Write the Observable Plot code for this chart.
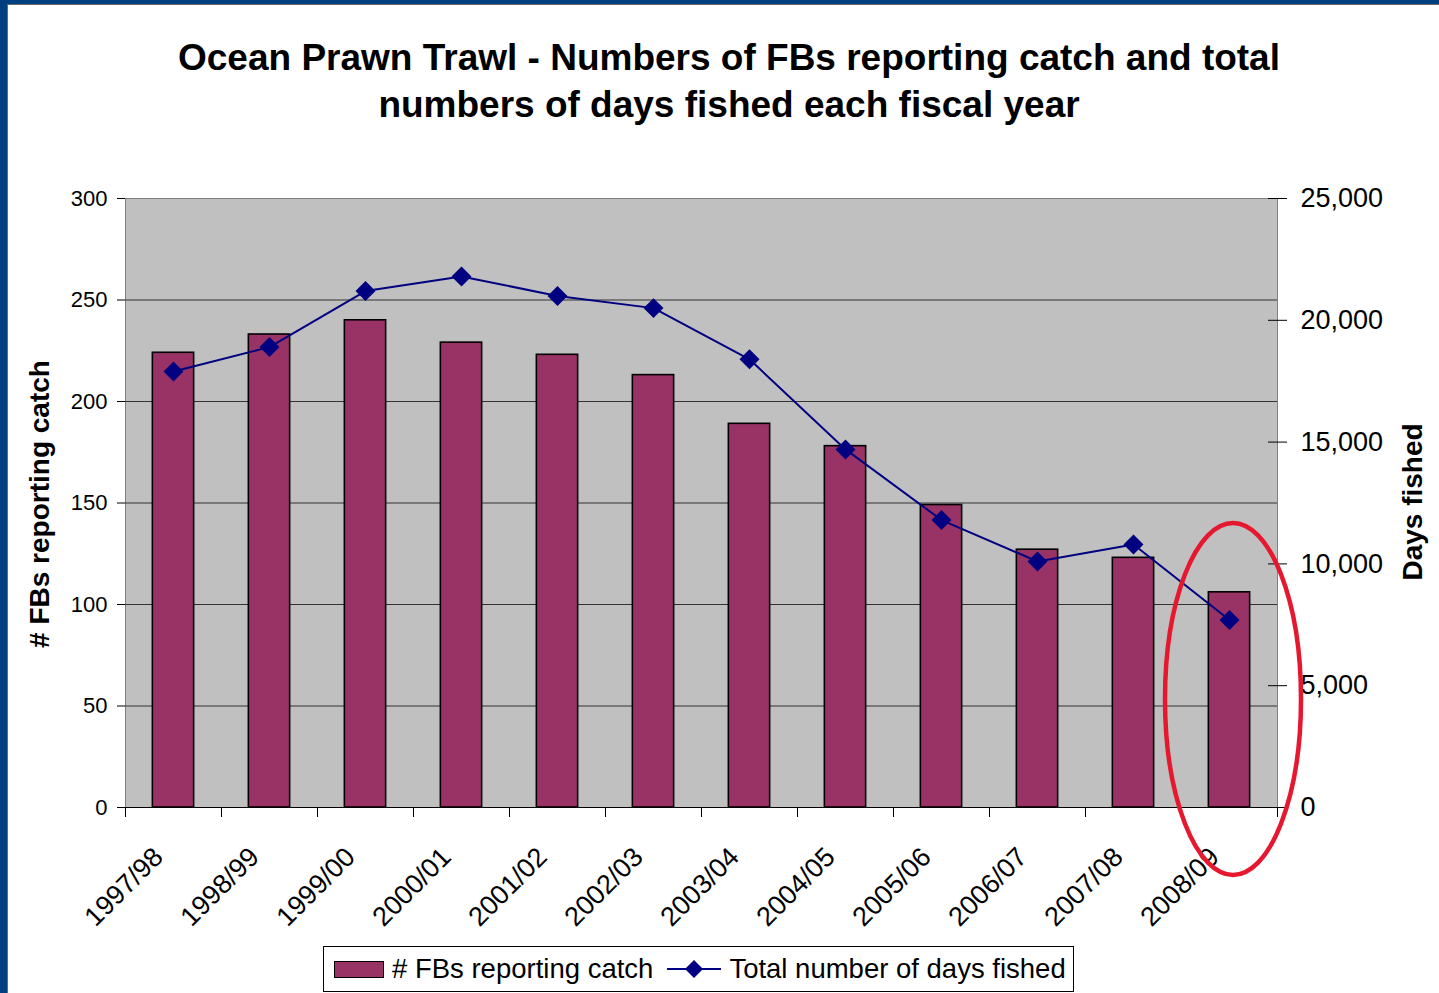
<!DOCTYPE html>
<html>
<head>
<meta charset="utf-8">
<script src="https://cdn.jsdelivr.net/npm/d3@7"></script>
<script src="https://cdn.jsdelivr.net/npm/@observablehq/plot@0.6"></script>
<style>
  html, body { margin: 0; padding: 0; background: #fff; }
  #wrap { position: relative; width: 1439px; height: 993px; overflow: hidden; background: #fff;
          font-family: "Liberation Sans", Arial, sans-serif; color: #000; }
  #frameBlue { position: absolute; left: 0; top: 0; width: 1439px; height: 993px; box-sizing: border-box;
               border-left: 7px solid #003F7F; border-top: 4px solid #003F7F; }
  #frameLine { position: absolute; left: 7px; top: 4px; width: 1432px; height: 989px; box-sizing: border-box;
               border-left: 1px solid #6a6a6a; border-top: 1px solid #6a6a6a; }
  #title { position: absolute; left: 0; top: 34px; width: 1458px; text-align: center;
           font-weight: bold; font-size: 37px; line-height: 47px; }
  #chart { position: absolute; left: 0; top: 140px; }
  .ytitle { position: absolute; font-weight: bold; font-size: 28px; white-space: nowrap;
            transform: translate(-50%, -50%) rotate(-90deg); }
  #legend { position: absolute; left: 323px; top: 946px; width: 751px; height: 46px; box-sizing: border-box;
            border: 1px solid #000; display: flex; align-items: center; font-size: 27.5px; padding-left: 10px; }
  #legend .sw { width: 48px; height: 15px; background: #993366; border: 1.5px solid #000; margin-right: 8px; }
  #overlay { position: absolute; left: 0; top: 0; pointer-events: none; }
</style>
</head>
<body>
<div id="wrap">
  <div id="frameBlue"></div>
  <div id="frameLine"></div>
  <div id="title">Ocean Prawn Trawl - Numbers of FBs reporting catch and total<br>numbers of days fished each fiscal year</div>
  <div id="chart"></div>
  <div class="ytitle" style="left:40px; top:504px;"># FBs reporting catch</div>
  <div class="ytitle" style="left:1413px; top:502px;">Days fished</div>
  <div id="legend"></div>
  <svg id="overlay" width="1439" height="993">
    <ellipse cx="1233" cy="699" rx="68" ry="176" fill="none" stroke="#E5182F" stroke-width="4.5"></ellipse>
  </svg>
</div>
<script>
// ---- data ----
const years = ["1997/98","1998/99","1999/00","2000/01","2001/02","2002/03","2003/04","2004/05","2005/06","2006/07","2007/08","2008/09"];
const fbs   = [224, 233, 240, 229, 223, 213, 189, 178, 149, 127, 123, 106];
const days  = [17900, 18900, 21200, 21800, 21000, 20500, 18400, 14700, 11800, 10100, 10800, 7700];
const leftTicks = [0, 50, 100, 150, 200, 250, 300];
const rightTicks = [0, 5000, 10000, 15000, 20000, 25000];
const leftMax = 300, rightMax = 25000;

const rows = years.map((y, i) => ({year: y, fbs: fbs[i], days: days[i]}));
const toLeft = v => v * leftMax / rightMax;
const fromLeft = v => v * rightMax / leftMax;
const fmt = d3.format(",");

const plot = Plot.plot({
  width: 1439,
  height: 800,
  marginLeft: 125,
  marginRight: 162,
  marginTop: 58,
  marginBottom: 133,
  style: {background: "transparent", fontFamily: "'Liberation Sans', Arial, sans-serif", color: "#000"},
  x: {type: "band", domain: years, paddingInner: 0.57, paddingOuter: 0.285, round: false, axis: null},
  y: {domain: [0, leftMax], axis: null},
  marks: [
    Plot.frame({fill: "#C0C0C0", stroke: "#808080"}),
    Plot.ruleY(leftTicks.filter(t => t > 0 && t < leftMax), {stroke: "#333", strokeWidth: 1}),
    Plot.barY(rows, {x: "year", y: "fbs", fill: "#993366", stroke: "#000", strokeWidth: 1.6}),
    Plot.line(rows, {x: "year", y: d => toLeft(d.days), stroke: "#000080", strokeWidth: 2}),
    Plot.dot(rows, {x: "year", y: d => toLeft(d.days), symbol: "diamond2", r: 9, fill: "#000080", stroke: "none"}),
    Plot.ruleY([0], {stroke: "#000", strokeWidth: 1}),
    // left axis
    Plot.axisY(leftTicks, {anchor: "left", tickSize: 8, tickPadding: 10, fontSize: 22, line: true, label: null}),
    // right axis: labels + crossing ticks
    Plot.axisY(rightTicks.map(toLeft), {anchor: "right", tickSize: 0, tickPadding: 23, fontSize: 27, line: true,
      tickFormat: v => fmt(Math.round(fromLeft(v))), label: null}),
    Plot.axisY(rightTicks.map(toLeft), {anchor: "right", tickSize: 19, dx: -10, tickFormat: () => "", label: null}),
    // category boundary ticks
    Plot.axisX(years, {anchor: "bottom", tickSize: 10, dx: -48, tickFormat: () => "", label: null}),
    Plot.axisX([years[years.length - 1]], {anchor: "bottom", tickSize: 10, dx: 48, tickFormat: () => "", label: null}),
    // rotated category labels
    Plot.text(years, {x: d => d, frameAnchor: "bottom", rotate: -45, textAnchor: "end", lineAnchor: "middle",
      dx: -15, dy: 45, fontSize: 27, fill: "#000"})
  ]
});
document.getElementById("chart").appendChild(plot);

// legend
const lg = document.getElementById("legend");
lg.innerHTML = `<div class="sw"></div><span># FBs reporting catch</span>
<svg width="58" height="22" style="margin:0 6px 0 12px"><line x1="2" y1="11" x2="56" y2="11" stroke="#000080" stroke-width="2"/>
<path d="M29,2 L38,11 L29,20 L20,11 Z" fill="#000080"/></svg><span>Total number of days fished</span>`;
</script>
</body>
</html>
